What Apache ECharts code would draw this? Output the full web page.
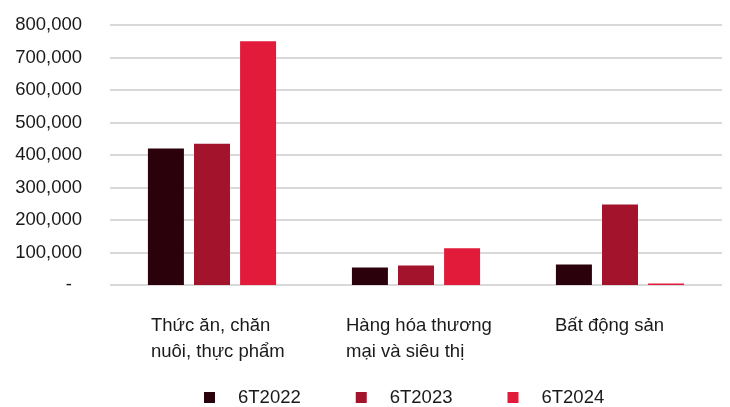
<!DOCTYPE html>
<html>
<head>
<meta charset="utf-8">
<script src="https://cdn.jsdelivr.net/npm/echarts@6/dist/echarts.min.js"></script>
<style>
html,body{margin:0;padding:0;background:#fff;}
#chart{width:730px;height:407px;}
</style>
</head>
<body>
<div id="chart"></div>
<script>
const categories = [
  ['Thức ăn, chăn', 'nuôi, thực phẩm'],
  ['Hàng hóa thương', 'mại và siêu thị'],
  ['Bất động sản']
];
const seriesNames = ['6T2022', '6T2023', '6T2024'];
const values2022 = [420000, 54000, 63000];
const values2023 = [435000, 60000, 248000];
const values2024 = [750000, 113000, 5000];
const yTicks = { min: 0, max: 800000, interval: 100000 };

const FONT = 'Liberation Sans';
const FS = 18.5;
const colors = ['#2b020b', '#a3132b', '#e31b3a'];
// horizontal nudges of category label blocks (left, right padding)
const labelPad = [[0, 0, 0, 12], [0, 0, 0, 6], [0, 20, 0, 0]];

const ctx = document.createElement('canvas').getContext('2d');
ctx.font = FS + 'px "' + FONT + '"';
const rich = {};
categories.forEach((lines, i) => {
  const w = Math.max(...lines.map(l => ctx.measureText(l).width));
  rich['c' + i] = { width: Math.ceil(w), align: 'left', fontFamily: FONT, fontSize: FS, color: '#1a1a1a', lineHeight: 26, padding: labelPad[i] };
});

const catKeys = categories.map((_, i) => String(i));

const chart = echarts.init(document.getElementById('chart'), null, { renderer: 'canvas' });
chart.setOption({
  animation: false,
  backgroundColor: '#ffffff',
  textStyle: { fontFamily: FONT },
  grid: { left: 110, right: 8, top: 25, bottom: 122, containLabel: false },
  legend: {
    data: seriesNames,
    left: 204,
    top: 388,
    padding: 0,
    icon: 'rect',
    itemWidth: 11,
    itemHeight: 11,
    itemGap: 55,
    textStyle: { fontFamily: FONT, fontSize: FS, color: '#1a1a1a', padding: [0, 0, 0, 18] }
  },
  xAxis: {
    type: 'category',
    data: catKeys,
    axisLine: { show: false },
    axisTick: { show: false },
    axisLabel: {
      margin: 28,
      interval: 0,
      align: 'center',
      formatter: (v) => {
        const i = Number(v);
        return categories[i].map(l => '{c' + i + '|' + l + '}').join('\n');
      },
      rich: rich
    }
  },
  yAxis: {
    type: 'value',
    min: yTicks.min,
    max: yTicks.max,
    interval: yTicks.interval,
    axisLine: { show: false },
    axisTick: { show: false },
    splitLine: { lineStyle: { color: '#d9d9d9', width: 2 } },
    axisLabel: {
      margin: 28,
      fontFamily: FONT,
      fontSize: FS,
      color: '#1a1a1a',
      formatter: (v) => v === 0 ? '{z|-}' : v.toLocaleString('en-US'),
      rich: { z: { fontFamily: FONT, fontSize: FS, color: '#1a1a1a', padding: [0, 10, 0, 0] } }
    }
  },
  series: [
    { name: seriesNames[0], type: 'bar', data: values2022, barWidth: 36, barGap: '28%', itemStyle: { color: colors[0] } },
    { name: seriesNames[1], type: 'bar', data: values2023, barWidth: 36, barGap: '28%', itemStyle: { color: colors[1] } },
    { name: seriesNames[2], type: 'bar', data: values2024, barWidth: 36, barGap: '28%', itemStyle: { color: colors[2] } }
  ]
});
</script>
</body>
</html>
